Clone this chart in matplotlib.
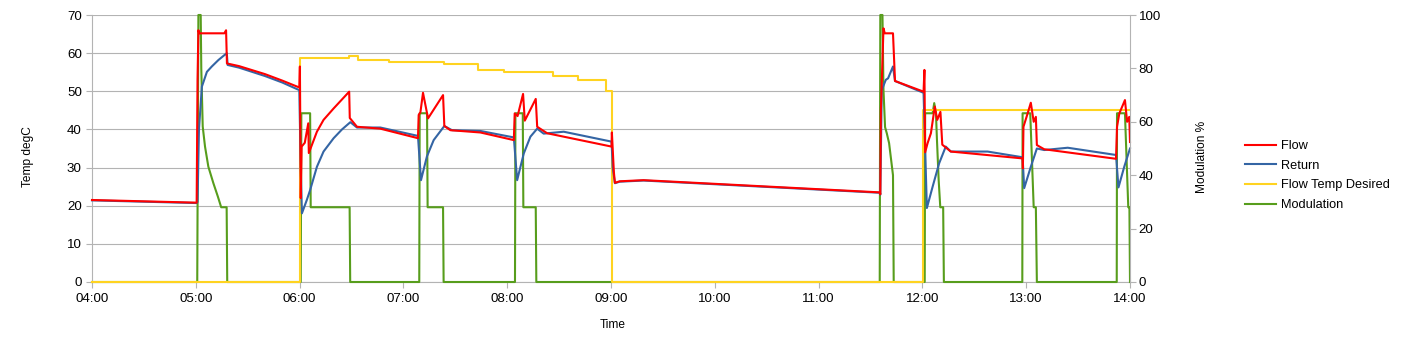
import matplotlib
matplotlib.use("Agg")
import matplotlib.pyplot as plt
import matplotlib.dates as mdates
import pandas as pd

plt.rcParams['font.family'] = ['Liberation Sans', 'DejaVu Sans']

# boiler log
flow_t = ["04:00:00", "05:00:30", "05:01:00", "05:01:30", "05:02:00", "05:16:30", "05:17:30",
          "05:18:00", "05:25:00", "05:40:00", "05:50:00", "05:59:50", "06:00:10", "06:00:40",
          "06:01:10", "06:03:00", "06:05:00", "06:05:20", "06:10:00", "06:13:50", "06:19:40",
          "06:28:40", "06:29:00", "06:33:10", "06:46:40", "07:08:25", "07:08:50", "07:09:50",
          "07:11:20", "07:14:15", "07:22:55", "07:23:40", "07:27:10", "07:44:30", "08:03:50",
          "08:04:20", "08:06:00", "08:09:10", "08:10:10", "08:16:30", "08:17:20", "08:23:05",
          "09:00:20", "09:00:30", "09:01:40", "09:02:15", "09:05:00", "09:18:50", "11:35:20",
          "11:35:40", "11:36:00", "11:37:30", "11:38:15", "11:43:00", "11:44:10", "12:00:40",
          "12:01:10", "12:01:35", "12:03:00", "12:04:55", "12:07:10", "12:08:35", "12:10:25",
          "12:11:30", "12:16:25", "12:57:55", "12:58:05", "12:58:25", "13:00:50", "13:02:40",
          "13:04:20", "13:05:35", "13:06:10", "13:10:25", "13:51:55", "13:52:30", "13:53:50",
          "13:57:05", "13:58:20", "13:59:35", "14:00:00"]
flow_v = [21.5, 20.8, 53.0, 66.0, 65.2, 65.2, 66.0,
          57.3, 56.6, 54.5, 52.8, 51.0, 56.5, 22.0,
          35.5, 36.5, 41.6, 33.8, 39.4, 42.5, 45.5,
          49.9, 43.0, 40.7, 40.2, 37.7, 43.8, 44.5,
          49.6, 42.9, 49.0, 40.9, 39.8, 39.2, 37.2,
          44.2, 43.5, 49.3, 42.3, 48.0, 40.7, 39.0,
          35.5, 39.2, 28.8, 26.0, 26.4, 26.7, 23.5,
          23.0, 45.0, 66.5, 65.2, 65.2, 52.7, 49.9,
          55.6, 34.0, 36.4, 39.0, 46.0, 42.5, 44.6,
          36.0, 34.2, 32.4, 29.8, 40.7, 44.2, 47.0,
          42.0, 43.3, 35.9, 34.8, 32.3, 40.7, 44.2,
          47.7, 42.0, 43.3, 36.7]

return_t = ["04:00:00", "05:00:30", "05:01:00", "05:01:50", "05:03:30", "05:06:25", "05:09:15",
            "05:13:05", "05:17:55", "05:18:25", "05:25:00", "05:40:00", "05:50:00", "05:59:50",
            "06:00:40", "06:01:20", "06:04:10", "06:06:05", "06:10:00", "06:13:50", "06:19:40",
            "06:24:30", "06:29:20", "06:33:10", "06:46:40", "07:08:25", "07:10:10", "07:13:35",
            "07:17:30", "07:23:40", "07:28:05", "07:44:30", "08:03:50", "08:05:45", "08:09:35",
            "08:13:25", "08:17:20", "08:21:05", "08:32:40", "09:00:20", "09:01:00", "09:02:15",
            "09:05:00", "09:18:50", "11:35:20", "11:35:40", "11:36:30", "11:38:50", "11:40:10",
            "11:43:00", "11:44:10", "12:00:40", "12:01:35", "12:02:35", "12:05:55", "12:09:40",
            "12:13:30", "12:16:25", "12:37:40", "12:57:55", "12:58:50", "13:02:40", "13:06:10",
            "13:10:25", "13:24:00", "13:51:55", "13:53:20", "13:56:40", "14:00:00"]
return_v = [21.4, 20.7, 21.0, 40.0, 51.2, 55.1, 56.5,
            58.2, 60.0, 56.9, 56.2, 54.0, 52.3, 50.3,
            30.0, 18.0, 21.5, 24.1, 30.2, 34.2, 37.7,
            40.0, 41.9, 40.5, 40.5, 38.3, 26.7, 32.9,
            37.2, 40.9, 39.8, 39.6, 37.9, 26.7, 33.7,
            38.1, 40.2, 38.9, 39.4, 36.8, 30.0, 25.9,
            26.3, 26.6, 23.4, 22.9, 50.3, 53.0, 53.4,
            56.5, 52.7, 49.6, 35.0, 19.4, 25.0, 31.1,
            35.5, 34.2, 34.2, 32.7, 24.6, 30.2, 35.0,
            34.6, 35.2, 33.3, 24.8, 30.2, 35.0]

# set point changes (step)
desired_t = ["04:00:00", "06:00:15", "06:28:20", "06:33:30", "06:51:25", "07:23:15", "07:42:55",
             "07:58:00", "08:26:35", "08:41:00", "08:56:50", "09:00:40", "12:00:15", "14:00:00"]
desired_v = [0, 58.6, 59.3, 58.2, 57.6, 57.1, 55.6,
             55.1, 54.0, 53.0, 50.2, 0, 45.1, 45.1]

mod_t = ["04:00:00", "05:00:50", "05:01:30", "05:02:50", "05:03:10", "05:04:00", "05:05:20",
         "05:07:15", "05:10:10", "05:12:45", "05:14:40", "05:17:50", "05:18:10", "06:00:40",
         "06:01:00", "06:06:05", "06:06:25", "06:28:55", "06:29:15", "07:09:10", "07:09:25",
         "07:13:40", "07:14:00", "07:22:55", "07:23:15", "08:04:30", "08:04:45", "08:09:00",
         "08:09:20", "08:16:30", "08:16:50", "11:35:20", "11:35:40", "11:36:55", "11:37:30",
         "11:38:25", "11:39:25", "11:40:45", "11:43:00", "11:43:25", "12:01:20", "12:01:35",
         "12:05:55", "12:06:50", "12:07:50", "12:08:25", "12:09:25", "12:10:20", "12:12:00",
         "12:12:25", "12:57:45", "12:57:55", "13:02:20", "13:04:20", "13:05:35", "13:06:10",
         "13:52:20", "13:52:30", "13:57:05", "13:59:00", "13:59:40", "14:00:00"]
mod_v = [0, 0, 100, 100, 80, 58.2, 50.7,
         43.2, 37, 32, 28, 28, 0, 0,
         63.2, 63.2, 28, 28, 0, 0, 63.2,
         63.2, 28, 28, 0, 0, 63.2, 63.2,
         28, 28, 0, 0, 100, 100, 72,
         58, 55.7, 52, 40, 0, 0, 63.2,
         63.2, 67, 63.2, 53.2, 38, 28, 28,
         0, 0, 63.2, 63.2, 28, 28, 0,
         0, 63.2, 63.2, 28, 28, 0]


def to_time(ts):
    return pd.to_datetime(ts, format="%H:%M:%S")


grey = "#b3b3b3"

fig = plt.figure(figsize=(14.15, 3.53), dpi=100)
ax1 = fig.add_axes([92 / 1415, 1 - 282 / 353, 1038 / 1415, 267 / 353])
ax2 = ax1.twinx()

l_flow, = ax1.plot(to_time(flow_t), flow_v, color="#ff0000", lw=1.5, zorder=6,
                   clip_on=False, label="Flow")
l_ret, = ax1.plot(to_time(return_t), return_v, color="#3465a4", lw=1.5, zorder=5,
                  clip_on=False, label="Return")
l_des, = ax1.plot(to_time(desired_t), desired_v, color="#ffd320", lw=1.5, zorder=4,
                  drawstyle="steps-post", clip_on=False, label="Flow Temp Desired")
# modulation uses the right axis scale but sits under the temperature lines
l_mod, = ax1.plot(to_time(mod_t), mod_v, color="#579d1c", lw=1.5, zorder=3,
                  transform=ax2.transData, clip_on=False, label="Modulation")

ax1.set_xlim(to_time(["04:00:00"])[0], to_time(["14:00:00"])[0])
ax1.set_ylim(0, 70)
ax1.set_yticks(range(0, 71, 10))
ax2.set_ylim(0, 100)
ax2.set_yticks(range(0, 101, 20))

ax1.xaxis.set_major_locator(mdates.HourLocator())
ax1.xaxis.set_major_formatter(mdates.DateFormatter("%H:%M"))

ax1.yaxis.grid(True, color=grey, lw=0.8)
ax1.set_axisbelow(True)

for sp in ["top", "right"]:
    ax1.spines[sp].set_visible(False)
for sp in ["top", "left", "bottom"]:
    ax2.spines[sp].set_visible(False)
ax1.spines["left"].set_color(grey)
ax1.spines["bottom"].set_color(grey)
ax2.spines["right"].set_color(grey)
for sp in [ax1.spines["left"], ax1.spines["bottom"], ax2.spines["right"]]:
    sp.set_linewidth(0.8)

ax1.tick_params(axis="both", direction="out", length=4.3, width=0.8, color=grey,
                labelsize=9.6, labelcolor="black")
ax1.tick_params(axis="y", pad=3)
ax1.tick_params(axis="x", pad=3.5)
ax2.tick_params(axis="y", direction="out", length=4.3, width=0.8, color=grey,
                labelsize=9.6, labelcolor="black", pad=2)

fig.text(28 / 1415, 1 - 157 / 353, "Temp degC", rotation=90, ha="center", va="center", fontsize=8.6)
fig.text(1202 / 1415, 1 - 157 / 353, "Modulation %", rotation=90, ha="center", va="center", fontsize=8.6)
fig.text(613 / 1415, 1 - 325 / 353, "Time", ha="center", va="center", fontsize=8.6)

fig.legend(handles=[l_flow, l_ret, l_des, l_mod], loc="center left",
           bbox_to_anchor=(1245 / 1415, 1 - 175.5 / 353), frameon=False, fontsize=9.2,
           handlelength=2.4, handletextpad=0.4, labelspacing=0.6, borderpad=0, borderaxespad=0)

fig.savefig("out.png", dpi=100)
